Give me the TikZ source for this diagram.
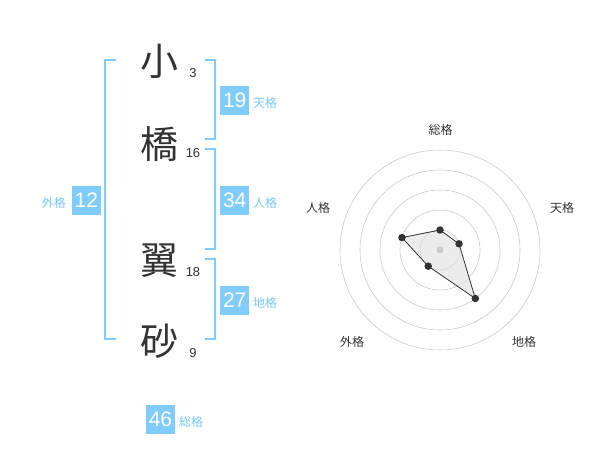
\documentclass[tikz,border=0pt]{standalone}
\usepackage{fontspec}
\setmainfont{Liberation Sans}
\newfontfamily\jp{Noto Sans CJK JP}
\definecolor{sky}{RGB}{128,204,255}
\definecolor{skytxt}{RGB}{120,198,250}
\definecolor{ink}{RGB}{51,51,51}
\definecolor{ring}{RGB}{204,204,204}
\begin{document}
\begin{tikzpicture}[x=1pt,y=-1pt,
  kanji/.style={inner sep=0pt,text=ink,font=\jp\fontsize{38}{38}\selectfont},
  strokes/.style={inner sep=0pt,text=ink,font=\fontsize{13}{13}\selectfont},
  numbox/.style={fill=sky,text=white,minimum width=29pt,minimum height=29pt,inner sep=0pt,font=\fontsize{21}{21}\selectfont},
  kaku/.style={inner sep=0pt,text=skytxt,font=\jp\fontsize{12}{12}\selectfont},
  brk/.style={draw=sky,line width=2pt},
  axislbl/.style={inner sep=0pt,text=ink,font=\jp\fontsize{12}{12}\selectfont},
  dot/.style={circle,fill=ink,inner sep=0pt,minimum size=7.5pt}]
\useasboundingbox (0,0) rectangle (600,470);
% characters
\node[kanji] (c1) at (159.5,61) {小};
\node[kanji] (c2) at (159.5,144) {橋};
\node[kanji] (c3) at (159.5,261) {翼};
\node[kanji] (c4) at (159.5,341) {砂};
\node[strokes] (n1) at (193,73) {3};
\node[strokes] (n2) at (193,153) {16};
\node[strokes] (n3) at (193,272) {18};
\node[strokes] (n4) at (193,353) {9};
% brackets
\draw[brk] (116,60) -- (105,60) -- (105,339.5) -- (116,339.5);
\draw[brk] (205,60) -- (214.5,60) -- (214.5,139.5) -- (205,139.5);
\draw[brk] (205,149.5) -- (214.5,149.5) -- (214.5,249.5) -- (205,249.5);
\draw[brk] (205,259.5) -- (214.5,259.5) -- (214.5,339.5) -- (205,339.5);
% boxes
\node[numbox] (b19) at (234.7,100.5) {19};
\node[kaku,anchor=west] (t19) at (253,103) {天格};
\node[numbox] (b34) at (234.7,200.3) {34};
\node[kaku,anchor=west] (t34) at (253,203) {人格};
\node[numbox] (b27) at (234.7,300.5) {27};
\node[kaku,anchor=west] (t27) at (253,303) {地格};
\node[numbox] (b12) at (86.3,200.3) {12};
\node[kaku,anchor=east] (t12) at (66,203) {外格};
\node[numbox] (b46) at (160.5,419.5) {46};
\node[kaku,anchor=west] (t46) at (179,422) {総格};
% radar
\coordinate (o) at (440,250);
\foreach \r in {20,40,60,80,100} \draw[ring,line width=0.6pt] (o) circle[radius=\r];
\coordinate (p1) at (440,230);
\coordinate (p2) at (459.0,243.8);
\coordinate (p3) at (475.3,298.5);
\coordinate (p4) at (428.2,266.2);
\coordinate (p5) at (402.0,237.6);
\fill[black!12,opacity=0.6] (p1) -- (p2) -- (p3) -- (p4) -- (p5) -- cycle;
\fill[ring] (o) circle[radius=3.5];
\draw[ink,line width=0.8pt] (p1) -- (p2) -- (p3) -- (p4) -- (p5) -- cycle;
\foreach \p in {p1,p2,p3,p4,p5} \node[dot] at (\p) {};
\node[axislbl] (l1) at (440.5,130) {総格};
\node[axislbl] (l2) at (562,208) {天格};
\node[axislbl] (l3) at (318,208) {人格};
\node[axislbl] (l4) at (352,342) {外格};
\node[axislbl] (l5) at (524,342) {地格};
\end{tikzpicture}
\end{document}
